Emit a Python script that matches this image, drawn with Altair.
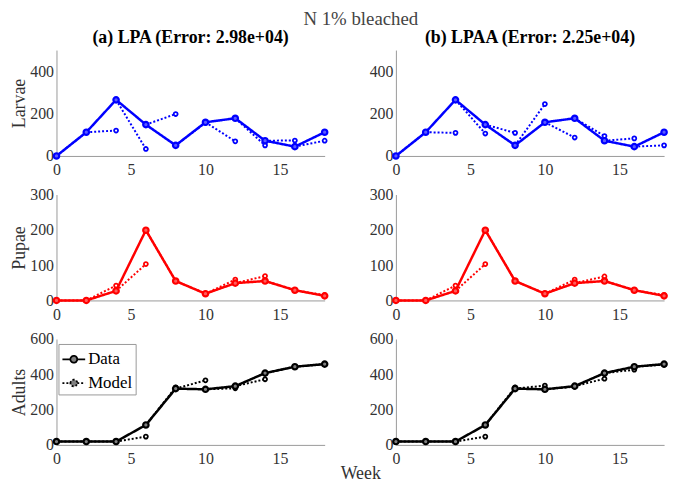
import altair as alt
import pandas as pd

weeks = [0, 2, 4, 6, 8, 10, 12, 14, 16, 18]
larvae = [0, 112, 265, 148, 50, 159, 178, 72, 44, 112]
pupae = [0, 0, 27, 199, 55, 19, 49, 55, 29, 13]
adults = [19, 19, 19, 113, 319, 315, 333, 407, 443, 458]

# one-step-ahead model predictions (weeks 2..18), starting from each data point
lpa_larvae = [112, 120, 33, 198, 157, 69, 50, 73, 72]
lpa_pupae = [0, 42, 103, 55, 20, 59, 69, 30, 15]
lpa_adults = [19, 19, 47, 326, 366, 321, 372, 443, 458]
lpaa_larvae = [112, 109, 106, 109, 245, 87, 94, 83, 50]
lpaa_pupae = [0, 42, 103, 55, 20, 59, 68, 30, 15]
lpaa_adults = [19, 19, 47, 326, 336, 330, 375, 426, 455]

col_titles = ["(a) LPA (Error: 2.98e+04)", "(b) LPAA (Error: 2.25e+04)"]
row_names = ["Larvae", "Pupae", "Adults"]
row_colors = ["#0000ff", "#ff0000", "#000000"]
row_fills = ["#5c5cff", "#ff5c5c", "#808080"]
y_domains = [[0, 500], [0, 300], [0, 600]]
y_ticks = [[0, 200, 400], [0, 100, 200, 300], [0, 200, 400, 600]]
x_ticks = [0, 5, 10, 15]
kinds = ["Data", "Model"]

SERIF = "Liberation Serif, Times New Roman, serif"
W, H = 271, 107
LEG_PATH = "M-1,0L-0.3,0M0.3,0L1,0M-0.3,0A0.3,0.3,0,1,1,0.3,0A0.3,0.3,0,1,1,-0.3,0"


def panel(data_vals, model_vals, r, c):
    d = pd.DataFrame({"week": weeks, "value": data_vals, "kind": "Data", "seg": "data"})
    rows = []
    for i in range(len(model_vals)):
        rows.append({"week": weeks[i], "value": data_vals[i], "kind": "Model", "seg": f"m{i}", "end": 0})
        rows.append({"week": weeks[i + 1], "value": model_vals[i], "kind": "Model", "seg": f"m{i}", "end": 1})
    m = pd.DataFrame(rows)
    mp = m[m["end"] == 1]

    xaxis_kw = dict(values=x_ticks, labelFlush=False, labelPadding=6)
    if r == 2 and c == 1:
        xaxis_kw.update(title="Week", titleX=-36, titleY=34, titleBaseline="alphabetic",
                        titleAlign="center")
    else:
        xaxis_kw.update(title=None)
    x = alt.X("week:Q", scale=alt.Scale(domain=[0, 18], nice=False), axis=alt.Axis(**xaxis_kw))
    y = alt.Y("value:Q", scale=alt.Scale(domain=y_domains[r], nice=False),
              axis=alt.Axis(values=y_ticks[r], labelFlush=False, labelPadding=3,
                            title=row_names[r] if c == 0 else None))

    if r == 2 and c == 0:
        legend = alt.Legend(orient="none", legendX=2, legendY=5, title=None,
                            symbolType=LEG_PATH, symbolSize=529, symbolStrokeColor="black",
                            symbolStrokeWidth=1.8, symbolFillColor="#808080",
                            labelFont=SERIF, labelFontSize=17, labelColor="black",
                            strokeColor="#999999", fillColor="white", padding=3,
                            rowPadding=3, labelOffset=2)
    else:
        legend = None
    dash = alt.StrokeDash("kind:N", scale=alt.Scale(domain=kinds, range=[[1, 0], [2, 2]]),
                          legend=legend)

    color = row_colors[r]
    model_line = alt.Chart(m).mark_line(color=color, strokeWidth=2).encode(
        x=x, y=y, detail="seg:N", strokeDash=dash)
    data_line = alt.Chart(d).mark_line(color=color, strokeWidth=2.5).encode(
        x=x, y=y, strokeDash=dash)
    model_pts = alt.Chart(mp).mark_point(shape="circle", filled=True, fill="white",
                                         stroke=color, strokeWidth=1.8, size=16,
                                         opacity=1).encode(x=x, y=y)
    data_pts = alt.Chart(d).mark_point(shape="circle", filled=True, fill=row_fills[r],
                                       stroke=color, strokeWidth=2.2, size=30,
                                       opacity=1).encode(x=x, y=y)
    ch = alt.layer(model_line, data_line, model_pts, data_pts).properties(width=W, height=H)
    if r == 0:
        ch = ch.properties(title=alt.TitleParams(col_titles[c], font=SERIF, fontSize=18,
                                                 fontWeight="bold", color="black",
                                                 anchor="middle", offset=3))
    return ch


series = [
    [(larvae, lpa_larvae), (larvae, lpaa_larvae)],
    [(pupae, lpa_pupae), (pupae, lpaa_pupae)],
    [(adults, lpa_adults), (adults, lpaa_adults)],
]

panels = []
for r in range(3):
    for c in range(2):
        dv, mv = series[r][c]
        panels.append(panel(dv, mv, r, c))

chart = alt.concat(*panels, columns=2, spacing={"row": 39, "column": 72}, bounds="flush").resolve_scale(
    strokeDash="independent").resolve_legend(strokeDash="independent").properties(
    title=alt.TitleParams("N 1% bleached", font=SERIF, fontSize=19, fontWeight="normal",
                          color="#444444", anchor="middle", dx=20, offset=0),
    padding={"left": 3, "top": 0, "right": 0, "bottom": 0},
).configure_axis(
    labelFont=SERIF, labelFontSize=16, labelColor="#333333",
    titleFont=SERIF, titleFontSize=18, titleFontWeight="normal", titleColor="#333333",
    titlePadding=1, domainColor="#999999", ticks=False, grid=False,
).configure_view(stroke=None)

chart.save("out.html", embed_options={"renderer": "svg", "actions": False})
